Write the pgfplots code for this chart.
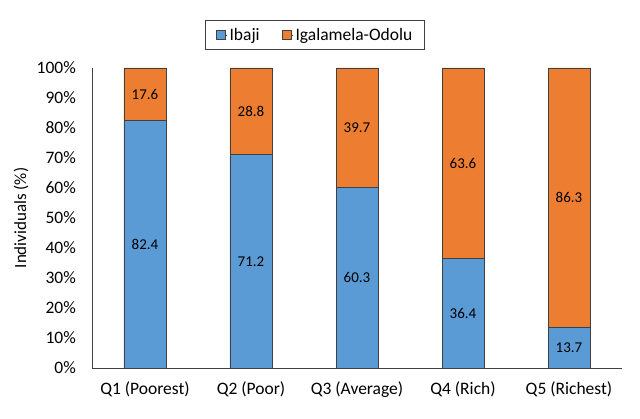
\documentclass[border=0pt]{standalone}
\usepackage{pgfplots}
\pgfplotsset{compat=1.18}
\usepackage{fontspec}
\setmainfont{Carlito}
\definecolor{cblue}{HTML}{5B9BD5}
\definecolor{corange}{HTML}{ED7D31}
\definecolor{cline}{HTML}{404040}
\begin{document}
\begin{tikzpicture}
\useasboundingbox (-92pt,-50pt) rectangle (548pt,368pt);
\begin{axis}[
  at={(0,0)}, anchor=south west,
  scale only axis, width=530pt, height=300pt,
  ybar stacked, bar width=42pt,
  xmin=-0.5, xmax=4.5, ymin=0, ymax=100,
  axis x line*=bottom, axis y line*=left,
  axis line style={-, draw=cline, line width=0.8pt},
  major tick length=0pt,
  xtick={0,1,2,3,4},
  xticklabels={Q1 (Poorest),Q2 (Poor),Q3 (Average),Q4 (Rich),Q5 (Richest)},
  ytick={0,10,...,100},
  yticklabels={0\%,10\%,20\%,30\%,40\%,50\%,60\%,70\%,80\%,90\%,100\%},
  tick label style={font=\fontsize{17.5}{20}\selectfont, text=black},
  xticklabel style={anchor=base, inner sep=0pt, yshift=-26pt},
  yticklabel style={anchor=east, inner sep=0pt, xshift=-16pt},
  ylabel={Individuals (\%)},
  ylabel style={at={(axis description cs:-0.134,0.5)}, anchor=center, font=\fontsize{17}{20}\selectfont},
  legend style={at={(axis description cs:0.4208,1.11)}, anchor=center,
    legend columns=2, draw=cline, line width=1pt,
    font=\fontsize{17.5}{20}\selectfont,
    inner xsep=10pt, inner ysep=6pt,
    /tikz/every even column/.append style={column sep=20pt}},
  legend image code/.code={\path (0pt,0pt) -- (11pt,0pt);\draw[#1, draw=cline, line width=0.8pt] (0pt,-4.5pt) rectangle (9pt,4.5pt);},
  visualization depends on={rawy \as \rawy},
  nodes near coords={\pgfmathprintnumber[fixed,precision=1,fixed zerofill,assume math mode=true]{\rawy}},
  every node near coord/.append style={anchor=center, font=\fontsize{15}{18}\selectfont, text=black},
]
\addplot[fill=cblue, draw=cline, line width=0.8pt] coordinates {
  (0,82.4) (1,71.2) (2,60.3) (3,36.4) (4,13.7)};
\addplot[fill=corange, draw=cline, line width=0.8pt] coordinates {
  (0,17.6) (1,28.8) (2,39.7) (3,63.6) (4,86.3)};
\legend{Ibaji,Igalamela-Odolu}
\end{axis}
\end{tikzpicture}
\end{document}
